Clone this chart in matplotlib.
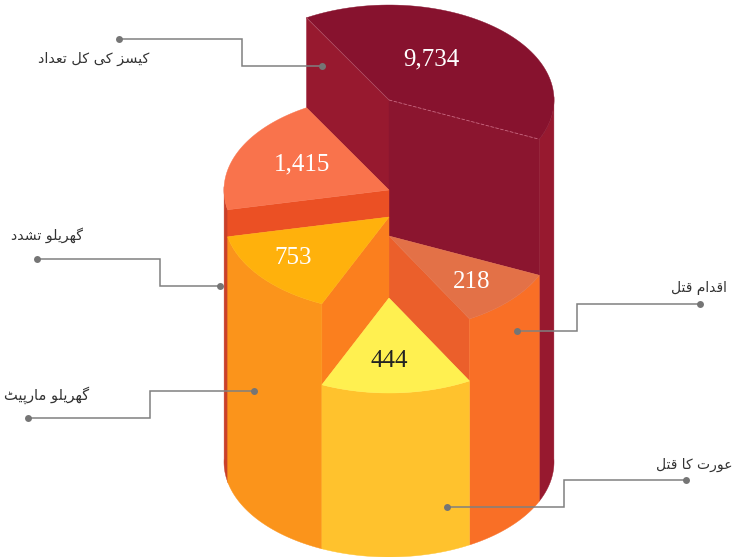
#python3
import numpy as np
import matplotlib
matplotlib.use("Agg")
import matplotlib.pyplot as plt
from matplotlib.patches import Polygon

# Chart data
categories = ["کیسز کی کل تعداد", "گھریلو تشدد", "گھریلو مارپیٹ", "عورت کا قتل", "اقدام قتل"]
values = [9734, 1415, 753, 444, 218]

# Arabic forms: isolated, final, initial, medial (matplotlib does no shaping itself)
forms = {
    "ا": "\ufe8d\ufe8e", "د": "\ufea9\ufeaa", "ر": "\ufead\ufeae", "ز": "\ufeaf\ufeb0", "و": "\ufeed\ufeee",
    "ت": "\ufe95\ufe96\ufe97\ufe98", "س": "\ufeb1\ufeb2\ufeb3\ufeb4", "ش": "\ufeb5\ufeb6\ufeb7\ufeb8",
    "ع": "\ufec9\ufeca\ufecb\ufecc", "ق": "\ufed5\ufed6\ufed7\ufed8", "ل": "\ufedd\ufede\ufedf\ufee0",
    "م": "\ufee1\ufee2\ufee3\ufee4", "ک": "\ufb8e\ufb8f\ufb90\ufb91", "گ": "\ufb92\ufb93\ufb94\ufb95",
    "ھ": "\ufbaa\ufbab\ufbac\ufbad", "ی": "\ufbfc\ufbfd\ufbfe\ufbff", "پ": "\ufb56\ufb57\ufb58\ufb59",
    "ٹ": "\ufb66\ufb67\ufb68\ufb69",
}


def shape(text):
    out = []
    for i, c in enumerate(text):
        if c not in forms:
            out.append(c)
            continue
        prev = text[i - 1] if i > 0 else " "
        nxt = text[i + 1] if i + 1 < len(text) else " "
        join_prev = prev in forms and len(forms[prev]) == 4
        join_next = nxt in forms and len(forms[c]) == 4
        if join_prev and join_next:
            idx = 3
        elif join_prev:
            idx = 1
        elif join_next:
            idx = 2
        else:
            idx = 0
        out.append(forms[c][idx])
    return "".join(out)[::-1]


# Cylinder layout in pixels
cx, base_y, rx, ry = 389, 462, 165, 95
level_dark, level_1415, level_753, level_444, level_218 = 100, 190, 217, 298, 236
a_dark0, a_dark1, a_218, a_444, a_753, a_1415 = -120, 24.4, 60.8, 114, 168, 240


def rim(angle, level):
    t = np.radians(angle)
    return cx + rx * np.cos(t), level + ry * np.sin(t)


def arc(a0, a1, level):
    ts = np.linspace(a0, a1, 80)
    return [rim(t, level) for t in ts]


def draw(points, color):
    ax.add_patch(Polygon(points, closed=True, facecolor=color, edgecolor=color, linewidth=0.3))


def outer_wall(a0, a1, level, color):
    draw(arc(a0, a1, level) + arc(a1, a0, base_y), color)


def inner_wall(angle, top, bottom, color):
    draw([(cx, top), rim(angle, top), rim(angle, bottom), (cx, bottom)], color)


def top_face(a0, a1, level, color):
    draw([(cx, level)] + arc(a0, a1, level), color)


fig = plt.figure(figsize=(7.33, 5.57), dpi=100)
ax = fig.add_axes([0, 0, 1, 1])
ax.set_xlim(0, 733)
ax.set_ylim(557, 0)
ax.axis("off")

# back to front
outer_wall(-2, a_dark1, level_dark, "#97192F")
outer_wall(a_753 - 1, 182, level_1415, "#C9402A")
inner_wall(a_dark0, level_dark, level_1415, "#97192F")
inner_wall(a_dark1, level_dark, level_218, "#8B152F")
top_face(a_dark0, a_dark1, level_dark, "#87122E")
ax.plot(*zip((cx, level_dark), rim(a_dark1, level_dark)), color="#C9667F", lw=0.6, ls=(0, (4, 2)))
ax.plot(*zip((cx, level_dark), rim(a_dark0, level_dark)), color="#B5566B", lw=0.5)

inner_wall(a_753, level_1415, level_753, "#EB5024")
top_face(a_753, a_1415, level_1415, "#F9734C")

inner_wall(a_218, level_218, level_444, "#EB5F2B")
outer_wall(a_dark1, a_218, level_218, "#F96F26")
top_face(a_dark1, a_218, level_218, "#E37147")

inner_wall(a_444, level_753, level_444, "#FB7F1E")
outer_wall(a_444, a_753, level_753, "#FB941B")
top_face(a_444, a_753, level_753, "#FFB10C")

outer_wall(a_218, a_444, level_444, "#FFC22D")
top_face(a_218, a_444, level_444, "#FFF050")

# value labels
value_pos = [(431, 59), (302, 164), (293, 258), (389, 361), (472, 282)]
value_col = ["white", "white", "white", "#222222", "white"]
for v, (x, y), c in zip(values, value_pos, value_col):
    ax.text(x, y, f"{v:,}", ha="center", va="center", fontsize=18, color=c, family="Liberation Serif")

# leader lines
leaders = [
    [(119, 39), (242, 39), (242, 66), (322, 66)],
    [(37, 259), (160, 259), (160, 286), (220, 286)],
    [(28, 418), (150, 418), (150, 391), (254, 391)],
    [(686, 480), (564, 480), (564, 507), (447, 507)],
    [(700, 304), (577, 304), (577, 331), (517, 331)],
]
for pts in leaders:
    xs, ys = zip(*pts)
    ax.plot(xs, ys, color="#808080", lw=1.1, solid_joinstyle="miter")
    ax.plot([xs[0], xs[-1]], [ys[0], ys[-1]], "o", color="#757575", ms=5, mew=0, ls="none")

# category labels, right edge and middle height
label_pos = [(149, 59), (83, 235), (89, 395), (733, 465), (727, 288)]
label_size = [10.4, 10.2, 10.5, 10, 10]
for name, (x, y), fs in zip(categories, label_pos, label_size):
    ax.text(x, y, shape(name), ha="right", va="center", fontsize=fs, color="#333333", family=["DejaVu Sans"])

fig.savefig("out.png", dpi=100)
